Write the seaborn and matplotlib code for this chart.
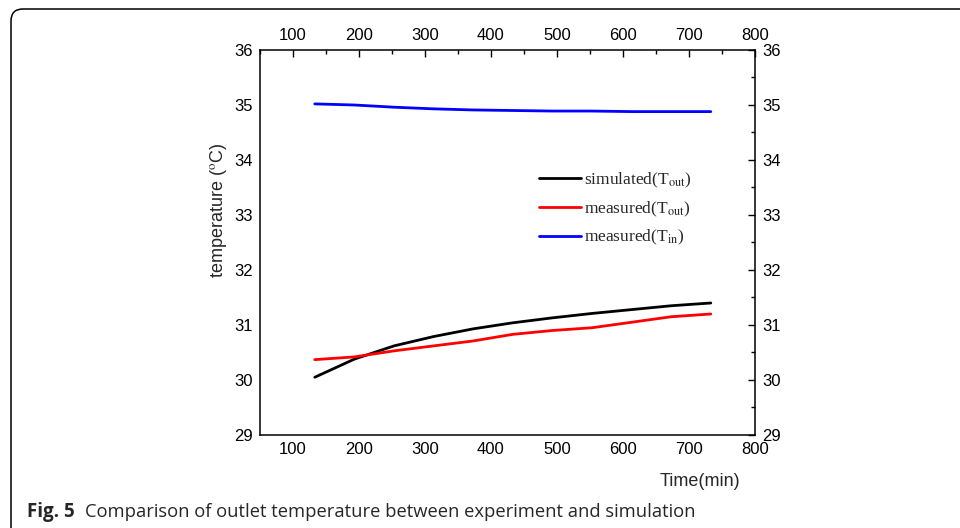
import matplotlib
matplotlib.use("Agg")
import matplotlib.pyplot as plt
from matplotlib.patches import FancyBboxPatch
from matplotlib.ticker import MultipleLocator
import seaborn as sns
import pandas as pd

time_min = [133, 193, 253, 313, 373, 433, 493, 553, 613, 673, 733]
simulated_out = [30.05, 30.38, 30.62, 30.79, 30.93, 31.04, 31.13, 31.21, 31.28, 31.35, 31.40]
measured_out = [30.37, 30.42, 30.53, 30.62, 30.71, 30.83, 30.90, 30.95, 31.05, 31.15, 31.20]
measured_in = [35.02, 35.00, 34.96, 34.93, 34.91, 34.90, 34.89, 34.89, 34.88, 34.88, 34.88]
series_names = ["simulated(T$_{\\mathrm{out}}$)", "measured(T$_{\\mathrm{out}}$)", "measured(T$_{\\mathrm{in}}$)"]
colors = ["#000000", "#ff0000", "#0000ff"]
x_ticks = [100, 200, 300, 400, 500, 600, 700, 800]
y_ticks = [29, 30, 31, 32, 33, 34, 35, 36]

rows = []
for name, vals in zip(series_names, [simulated_out, measured_out, measured_in]):
    for t, v in zip(time_min, vals):
        rows.append({"time": t, "temp": v, "series": name})
df = pd.DataFrame(rows)

sns.set_theme(style="white")
plt.rcParams["font.family"] = ["Liberation Sans", "DejaVu Sans"]
plt.rcParams["mathtext.fontset"] = "stix"

fig = plt.figure(figsize=(9.6, 5.28), dpi=100)
ax = fig.add_axes([260/960, 1-435/528, (755-260)/960, (435-50)/528])

sns.lineplot(data=df, x="time", y="temp", hue="series", hue_order=series_names,
             palette=colors, linewidth=2.0, ax=ax, legend=True, sort=False)

ax.set_xlim(50, 800)
ax.set_ylim(29, 36)
ax.set_xticks(x_ticks)
ax.set_yticks(y_ticks)
ax.xaxis.set_minor_locator(MultipleLocator(50))
ax.yaxis.set_minor_locator(MultipleLocator(0.5))
ax.tick_params(which="both", direction="in", top=True, right=True,
               labeltop=True, labelright=True, labelsize=12, colors="black", width=1)
ax.tick_params(which="major", length=5, pad=5)
ax.tick_params(which="minor", length=3)
for s in ax.spines.values():
    s.set_color("black")
    s.set_linewidth(1.1)

ax.set_xlabel("")
ax.set_ylabel("temperature ($^{\\mathrm{o}}$C)", fontsize=13)
ax.yaxis.set_label_coords(-0.062, 0.584)
ax.text(0.97, -0.10, "Time(min)", transform=ax.transAxes, ha="right", va="top", fontsize=13)

leg = ax.legend(loc="upper left", bbox_to_anchor=(0.55, 0.705), frameon=False,
                prop={"family": "Liberation Serif", "size": 12.5},
                handlelength=2.4, handletextpad=0.2, labelspacing=0.55, borderaxespad=0)
for line in leg.get_lines():
    line.set_linewidth(2.0)

border = FancyBboxPatch((11, -40), 1100, 528 - 9 + 40, boxstyle="round,pad=0,rounding_size=12",
                        transform=None, fill=False, edgecolor="black", linewidth=1.1)
fig.patches.append(border)

fig.text(27/960, 1-512/528, "Fig. 5", fontsize=13.5, fontweight="bold",
         family=["Open Sans", "DejaVu Sans"], va="center", ha="left")
fig.text(85/960, 1-512/528, "Comparison of outlet temperature between experiment and simulation",
         fontsize=13.2, family=["Open Sans", "DejaVu Sans"], va="center", ha="left")

fig.savefig("out.png", dpi=100)
